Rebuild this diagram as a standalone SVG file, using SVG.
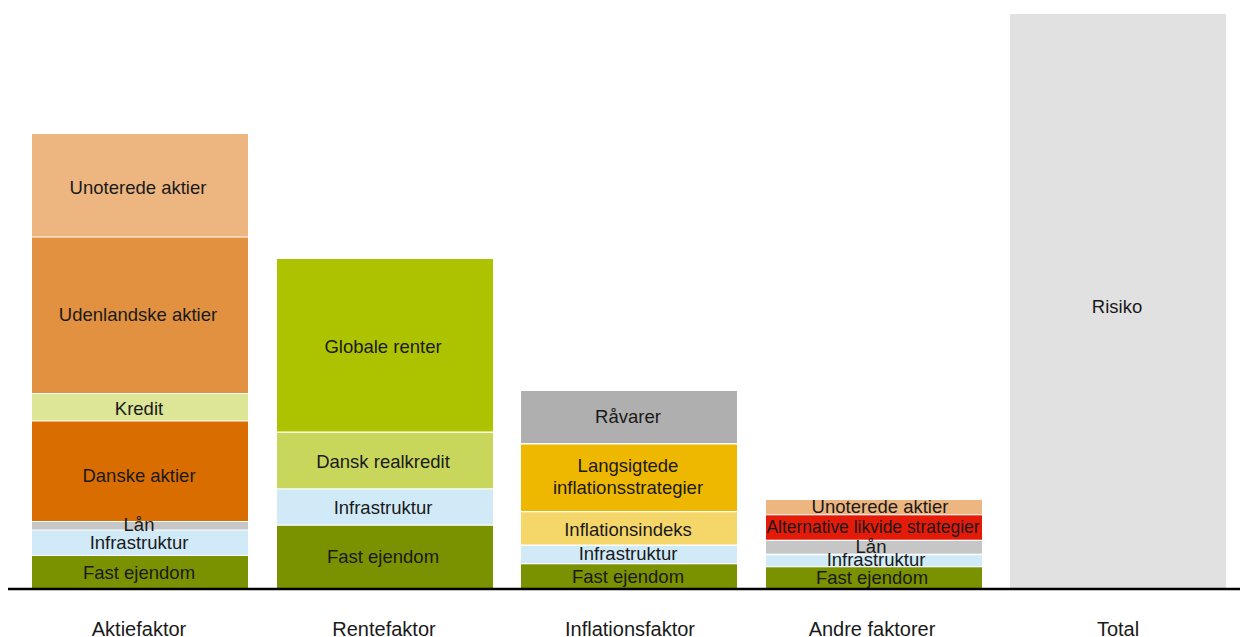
<svg xmlns="http://www.w3.org/2000/svg" width="1240" height="637" viewBox="0 0 1240 637">
<style>
text{font-family:"Liberation Sans",Arial,sans-serif;fill:#1a1a1a;text-anchor:middle}
.l{font-size:18.5px}
.ax{font-size:20px}
.unot{fill:#EDB681}.udl{fill:#E29140}.kred{fill:#DDE597}.dansk{fill:#D96D00}
.laan{fill:#C6C6C6}.infra{fill:#D1EAF8}.fast{fill:#7A9100}.glob{fill:#AEC300}
.real{fill:#C8D75C}.raa{fill:#AFAFAF}.lang{fill:#EFB800}.idx{fill:#F5D669}
.alt{fill:#E51B0A}.tot{fill:#E1E1E1}
</style>
<rect width="1240" height="637" fill="#ffffff"/>
<g id="aktiefaktor">
<rect class="unot" x="32" y="134" width="216" height="102.5"/>
<rect class="udl" x="32" y="237.5" width="216" height="155.5"/>
<rect class="kred" x="32" y="394" width="216" height="26.5"/>
<rect class="dansk" x="32" y="421.5" width="216" height="99.5"/>
<rect class="laan" x="32" y="522" width="216" height="7.5"/>
<rect class="infra" x="32" y="530.5" width="216" height="24.5"/>
<rect class="fast" x="32" y="556" width="216" height="32"/>
<text class="l" x="138" y="194">Unoterede aktier</text>
<text class="l" x="138" y="321">Udenlandske aktier</text>
<text class="l" x="139" y="415">Kredit</text>
<text class="l" x="139" y="482">Danske aktier</text>
<text class="l" x="139" y="530.5">Lån</text>
<text class="l" x="139" y="549">Infrastruktur</text>
<text class="l" x="139" y="579">Fast ejendom</text>
<text class="ax" x="139" y="636">Aktiefaktor</text>
</g>
<g id="rentefaktor">
<rect class="glob" x="277" y="259" width="216" height="172.5"/>
<rect class="real" x="277" y="432.8" width="216" height="55.5"/>
<rect class="infra" x="277" y="489.5" width="216" height="35"/>
<rect class="fast" x="277" y="525.8" width="216" height="62.2"/>
<text class="l" x="383" y="352.5">Globale renter</text>
<text class="l" x="383" y="468.3">Dansk realkredit</text>
<text class="l" x="383" y="514.3">Infrastruktur</text>
<text class="l" x="383" y="563.3">Fast ejendom</text>
<text class="ax" x="384" y="636">Rentefaktor</text>
</g>
<g id="inflationsfaktor">
<rect class="raa" x="521" y="391" width="216" height="52"/>
<rect class="lang" x="521" y="444.5" width="216" height="66.5"/>
<rect class="idx" x="521" y="512.3" width="216" height="32.2"/>
<rect class="infra" x="521" y="546" width="216" height="17"/>
<rect class="fast" x="521" y="564.3" width="216" height="23.7"/>
<text class="l" x="628" y="423.3">Råvarer</text>
<text class="l" x="628" y="471.7">Langsigtede</text>
<text class="l" x="628" y="494">inflationsstrategier</text>
<text class="l" x="628" y="536">Inflationsindeks</text>
<text class="l" x="628" y="560">Infrastruktur</text>
<text class="l" x="628" y="582.7">Fast ejendom</text>
<text class="ax" x="630" y="636">Inflationsfaktor</text>
</g>
<g id="andre-faktorer">
<rect class="unot" x="766" y="500" width="216" height="14.3"/>
<rect class="alt" x="766" y="515.3" width="216" height="24.4"/>
<rect class="laan" x="766" y="541" width="216" height="12.7"/>
<rect class="infra" x="766" y="555.3" width="216" height="11"/>
<rect class="fast" x="766" y="567.3" width="216" height="20.7"/>
<text class="l" x="880" y="513.3">Unoterede aktier</text>
<text class="l" x="873" y="533.3" textLength="213" lengthAdjust="spacingAndGlyphs">Alternative likvide strategier</text>
<text class="l" x="871" y="553">Lån</text>
<text class="l" x="876" y="566">Infrastruktur</text>
<text class="l" x="872" y="584.3">Fast ejendom</text>
<text class="ax" x="872" y="636">Andre faktorer</text>
</g>
<g id="total">
<rect class="tot" x="1010" y="14" width="216" height="574"/>
<text class="l" x="1117" y="312.7">Risiko</text>
<text class="ax" x="1118" y="636">Total</text>
</g>
<g id="connectors">
<line x1="8" y1="589" x2="1240" y2="589" stroke="#000000" stroke-width="2.5"/>
</g>
</svg>
